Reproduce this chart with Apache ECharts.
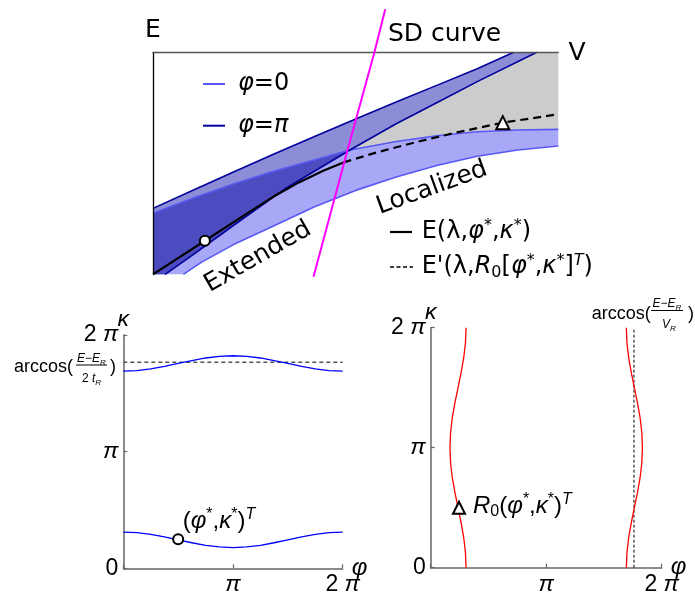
<!DOCTYPE html>
<html><head><meta charset="utf-8">
<script src="https://cdn.jsdelivr.net/npm/echarts/dist/echarts.min.js"></script>
<style>html,body{margin:0;padding:0;background:#fff;}#chart{width:695px;height:596px;}</style>
</head><body><div id="chart"></div>
<script>
// ---------- Top panel: E vs V (arbitrary units 0..100) ----------
const V_MAX = 100, E_MAX = 100;
const X_CROSS = 48.6; // where the phi=0 upper edge meets the phi=pi lower edge
const phi0Upper  = [[0,27.5],[10,34.4],[20,40.8],[30,46.5],[40,51.6],[48.6,56],[60,59.8],[70,62.4],[80,64.2],[90,65.0],[100,65.3]];
const phi0Lower  = [[7.5,0],[12,5.5],[20,13.5],[30,22],[40,30.5],[50,37.8],[60,43.8],[70,49],[80,53.2],[90,56],[100,57.8]];
const phiPiUpper = [[0,29.7],[10,38],[20,46.2],[30,54.3],[40,62.2],[50,70],[60,77.6],[70,85.1],[80,92.6],[89,100]];
const phiPiLower = [[3,0],[10,9.0],[20,22.2],[33,39.0],[48.6,56],[60,67.8],[70,77.3],[80,86.8],[94.7,100]];
const energySolid  = [[0,0],[12.8,15.1],[22,26],[30,35.3],[36,41.4],[42,46.6],[47,50.4]];
const energyDashed = [[47,50.4],[55,54.8],[65,59.6],[75,63.9],[86.3,68.3],[100,72.1]];
const sdCurve = [[39.6,-1.1],[48,56],[54.6,99.8],[57.3,119.4]];
const circleTop = [12.8,15.1];
const triangleTop = [86.3,68.3];

// ---------- Bottom panels (axes in units of pi) ----------
const samples = [0,0.125,0.25,0.375,0.5,0.625,0.75,0.875,1,1.125,1.25,1.375,1.5,1.625,1.75,1.875,2];
const kappaLow  = [0.310,0.305,0.291,0.269,0.244,0.219,0.197,0.183,0.178,0.183,0.197,0.219,0.244,0.269,0.291,0.305,0.310];
const kappaHigh = [1.690,1.695,1.709,1.731,1.756,1.781,1.803,1.817,1.822,1.817,1.803,1.781,1.756,1.731,1.709,1.695,1.690];
const arccosT = 1.766;
const starPoint = [0.5,0.25];
const phiLeft  = [0.306,0.301,0.286,0.263,0.237,0.210,0.187,0.172,0.167,0.172,0.187,0.210,0.237,0.263,0.286,0.301,0.306];
const phiRight = [1.694,1.699,1.714,1.737,1.763,1.790,1.813,1.828,1.833,1.828,1.813,1.790,1.763,1.737,1.714,1.699,1.694];
const arccosV = 1.760;
const rotPoint = [0.245,0.5];
const tickLabels = ['0','{p|π}','2 {p|π}'];

const TOP = 'DejaVu Sans', BOT = 'Liberation Sans';
const C = {gray:'#cccccc', light:'rgb(168,168,247)', medium:'rgb(140,140,215)', dark:'rgb(76,76,192)',
           lightLine:'rgb(88,88,245)', darkLine:'rgb(0,0,155)', magenta:'#ff00ff', axis:'#666666'};

const chart = echarts.init(document.getElementById('chart'), null, {renderer:'canvas'});

function poly(ptsFn, color, z) {
  return {type:'custom', coordinateSystem:'cartesian2d', xAxisIndex:0, yAxisIndex:0, silent:true, z:z,
    data:[[0,0]],
    renderItem:(params, api)=>({type:'polygon', shape:{points: ptsFn().map(p=>api.coord(p))}, style:{fill:color}})};
}
function line(data, color, width, gi, opts) {
  opts = opts || {};
  return {type:'line', data:data, xAxisIndex:gi, yAxisIndex:gi, showSymbol:false, symbol:'none', silent:true,
    clip: opts.clip !== false, z: opts.z || 5, emphasis:{disabled:true},
    lineStyle:{color:color, width:width, type: opts.dash || 'solid'}};
}
function marker(pt, symbol, size, gi) {
  return {type:'scatter', data:[pt], xAxisIndex:gi, yAxisIndex:gi, symbol:symbol, symbolSize:size, silent:true, z:12,
    itemStyle:{color:'#fff', borderColor:'#000', borderWidth:2, opacity:1}};
}
const zip = (xs, ys) => xs.map((x,i)=>[x, ys[i]]);

function hiddenAxis(extra) {
  return Object.assign({type:'value', axisTick:{show:false}, axisLabel:{show:false}, splitLine:{show:false}}, extra);
}
function botX(gi) {
  return {type:'value', gridIndex:gi, min:0, max:2, interval:1,
    axisLine:{show:true, onZero:false, lineStyle:{color:C.axis, width:1.5}},
    axisTick:{show:true, inside:true, length:4, lineStyle:{color:C.axis, width:1.2}},
    splitLine:{show:false},
    axisLabel:{show:true, margin:5, color:'#000', fontSize:23, fontFamily:BOT,
      formatter:(v)=> v===0 ? '' : tickLabels[Math.round(v)],
      rich:{p:{fontStyle:'italic', fontSize:23, fontFamily:BOT, color:'#000'}}},
    name:'φ', nameLocation:'end', nameGap:9, nameMoveOverlap:false,
    nameTextStyle:{fontSize:24, fontStyle:'italic', fontFamily:BOT, color:'#000'}};
}
function botY(gi) {
  return {type:'value', gridIndex:gi, min:0, max:2, interval:1,
    axisLine:{show:true, onZero:false, lineStyle:{color:C.axis, width:1.5}},
    axisTick:{show:true, inside:true, length:4, lineStyle:{color:C.axis, width:1.2}},
    splitLine:{show:false},
    axisLabel:{show:true, margin:5, color:'#000', fontSize:23, fontFamily:BOT,
      formatter:(v)=> tickLabels[Math.round(v)],
      rich:{p:{fontStyle:'italic', fontSize:23, fontFamily:BOT, color:'#000'}}},
    name:'κ', nameLocation:'end', nameGap:4, nameMoveOverlap:false,
    nameTextStyle:{fontSize:23, fontStyle:'italic', fontFamily:BOT, color:'#000'}};
}

function rich(fam, size) {
  const s = Math.round(size*0.68);
  return {
    n:{fontSize:size, fontFamily:fam, lineHeight:size+4, fill:'#000', color:'#000'},
    i:{fontSize:size, fontFamily:fam, fontStyle:'italic', lineHeight:size+4, fill:'#000', color:'#000'},
    s:{fontSize:s, fontFamily:fam, lineHeight:Math.round(size*0.6), verticalAlign:'top', fill:'#000', color:'#000'},
    si:{fontSize:s, fontFamily:fam, fontStyle:'italic', lineHeight:Math.round(size*0.55), verticalAlign:'top', fill:'#000', color:'#000'},
    sb:{fontSize:s, fontFamily:fam, lineHeight:Math.round(size*0.7), verticalAlign:'bottom', fill:'#000', color:'#000'},
    sbi:{fontSize:s, fontFamily:fam, fontStyle:'italic', lineHeight:Math.round(size*0.7), verticalAlign:'bottom', fill:'#000', color:'#000'}
  };
}
function txt(x, y, text, o) {
  o = o || {};
  const fam = o.fam || TOP, size = o.size || 24, al = o.align || 'left';
  return {type:'text', x:x, y:y, rotation:o.rot || 0, z:100, silent:true,
    style:{text:text, fill:'#000', fontSize:size, fontFamily:fam, fontStyle:o.italic ? 'italic':'normal',
      align:al, textAlign:al, verticalAlign:'middle', textVerticalAlign:'middle', rich:rich(fam, size)}};
}
function seg(x1,y1,x2,y2,color,w,dash) {
  return {type:'line', z:100, silent:true, shape:{x1,y1,x2,y2}, style:{stroke:color, lineWidth:w, lineDash:dash || null}};
}

const option = {
  animation:false,
  backgroundColor:'#ffffff',
  grid:[
    {left:153, top:52.3, width:405.3, height:222, containLabel:false, outerBoundsMode:'none'},
    {left:123.3, top:335, width:219.4, height:233.3, containLabel:false, outerBoundsMode:'none'},
    {left:430.7, top:327.7, width:231, height:240, containLabel:false, outerBoundsMode:'none'}
  ],
  xAxis:[
    hiddenAxis({gridIndex:0, min:0, max:V_MAX, position:'top', z:10,
      axisLine:{show:true, onZero:false, lineStyle:{color:'#555', width:1.3}}}),
    botX(1), botX(2)
  ],
  yAxis:[
    hiddenAxis({gridIndex:0, min:0, max:E_MAX, z:10,
      axisLine:{show:true, onZero:false, lineStyle:{color:'#000', width:1.3}}}),
    botY(1), botY(2)
  ],
  series:[
    poly(()=>[...phi0Upper.filter(p=>p[0]>=X_CROSS), [V_MAX,E_MAX], ...phiPiLower.filter(p=>p[0]>=X_CROSS).reverse()], C.gray, 1),
    poly(()=>[...phi0Upper, ...phi0Lower.slice().reverse(), [0,0]], C.light, 2),
    poly(()=>[...phiPiUpper, ...phiPiLower.slice().reverse(), [0,0]], C.medium, 3),
    poly(()=>[...phi0Upper.filter(p=>p[0]<=X_CROSS), ...phiPiLower.filter(p=>p[0]<=X_CROSS).reverse(), [0,0]], C.dark, 4),
    line(phi0Upper, C.lightLine, 1.6, 0),
    line(phi0Lower, C.lightLine, 1.6, 0),
    line(phiPiUpper, C.darkLine, 1.6, 0),
    line(phiPiLower, C.darkLine, 1.6, 0),
    line(energySolid, '#000', 2.2, 0, {z:6}),
    line(energyDashed, '#000', 2.2, 0, {z:6, dash:[8,5]}),
    line(sdCurve, C.magenta, 2, 0, {z:11, clip:false}),
    marker(circleTop, 'circle', 10, 0),
    marker(triangleTop, 'triangle', 13, 0),

    line(zip(samples, kappaHigh), '#0000ff', 1.3, 1),
    line(zip(samples, kappaLow), '#0000ff', 1.3, 1),
    line([[0,arccosT],[2,arccosT]], '#555', 1.5, 1, {dash:[4,3], z:4}),
    marker(starPoint, 'circle', 10, 1),

    line(zip(phiLeft, samples), '#ff0000', 1.3, 2),
    line(zip(phiRight, samples), '#ff0000', 1.3, 2),
    line([[arccosV,0],[arccosV,2]], '#000', 1, 2, {dash:[3,2], z:4}),
    marker(rotPoint, 'triangle', 12, 2)
  ],
  graphic:{elements:[
    txt(153, 30, 'E', {align:'center', size:25}),
    txt(388, 34, 'SD curve', {size:25}),
    txt(577, 53, 'V', {align:'center', size:25}),
    seg(203, 84, 225, 84, C.lightLine, 2),
    txt(238, 84, '{i|φ}{n|=0}', {size:24}),
    seg(203, 125.7, 225, 125.7, C.darkLine, 2),
    txt(238, 125.7, '{i|φ}{n|=}{i|π}', {size:24}),
    txt(258, 257, 'Extended', {align:'center', size:25, rot:30*Math.PI/180}),
    txt(432, 188, 'Localized', {align:'center', size:25, rot:20*Math.PI/180}),
    seg(390, 232, 412, 232, '#000', 2.2),
    txt(421.7, 232, '{n|E(λ,}{i|φ}{s|*}{n|,}{i|κ}{s|*}{n|)}', {size:24}),
    seg(390, 267, 413, 267, '#000', 1.5, [4,2.5]),
    txt(421.7, 267, "{n|E'(λ,}{i|R}{sb|0}{n|[}{i|φ}{s|*}{n|,}{i|κ}{s|*}{n|]}{si|T}{n|)}", {size:24}),

    txt(14, 367, '{n|arccos(}', {fam:BOT, size:18}),
    txt(91.5, 359, '{i|E}{n|−}{i|E}{sbi|R}', {fam:BOT, size:12, align:'center'}),
    seg(76, 365, 107, 365, '#000', 1),
    txt(91.5, 379, '{n|2 }{i|t}{sbi|R}', {fam:BOT, size:12, align:'center'}),
    txt(110, 367, '{n|)}', {fam:BOT, size:18}),
    txt(182.7, 521, '{n|(}{i|φ}{s|*}{n|,}{i|κ}{s|*}{n|)}{si|T}', {fam:BOT, size:24}),

    txt(591.7, 314, '{n|arccos(}', {fam:BOT, size:18}),
    txt(667, 304, '{i|E}{n|−}{i|E}{sbi|R}', {fam:BOT, size:12, align:'center'}),
    seg(651, 310.5, 683, 310.5, '#000', 1),
    txt(669, 325, '{i|V}{sbi|R}', {fam:BOT, size:12, align:'center'}),
    txt(688, 314, '{n|)}', {fam:BOT, size:18}),
    txt(473, 506, '{i|R}{sb|0}{n|(}{i|φ}{s|*}{n|,}{i|κ}{s|*}{n|)}{si|T}', {fam:BOT, size:24})
  ]}
};
chart.setOption(option);
</script></body></html>
